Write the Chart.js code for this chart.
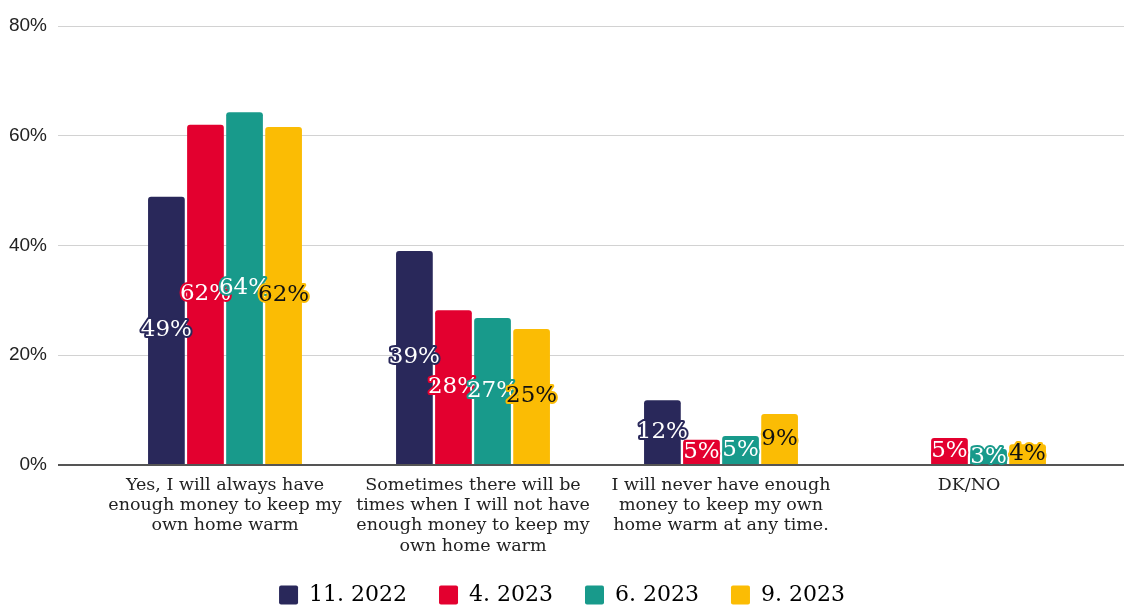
<!DOCTYPE html>
<html>
<head>
<meta charset="utf-8">
<script src="https://cdn.jsdelivr.net/npm/chart.js@4"></script>
<style>
  html, body { margin: 0; padding: 0; background: #fff; }
  #wrap { width: 1124px; height: 608px; }
</style>
</head>
<body>
<div id="wrap"><canvas id="chart"></canvas></div>
<script>
const categories = [
    ['Yes, I will always have', 'enough money to keep my', 'own home warm'],
    ['Sometimes there will be', 'times when I will not have', 'enough money to keep my', 'own home warm'],
    ['I will never have enough', 'money to keep my own', 'home warm at any time.'],
    ['DK/NO']
];
const seriesNames = ['11. 2022', '4. 2023', '6. 2023', '9. 2023'];
const nov2022 = [48.9, 39.0, 11.8, null];
const apr2023 = [62.0, 28.2, 4.6, 4.9];
const jun2023 = [64.3, 26.8, 5.3, 2.9];
const sep2023 = [61.6, 24.8, 9.3, 3.8];
const yTicks = [0, 20, 40, 60, 80];

const colors = ['#29285a', '#e3002f', '#189a8b', '#fbbc04'];
const labelText = ['#ffffff', '#ffffff', '#ffffff', '#111111'];
const serif = '"DejaVu Serif", Georgia, serif';

// value labels in the middle of each bar, with an outline in the bar colour
const barLabels = {
    id: 'barLabels',
    afterDatasetsDraw(chart) {
        const ctx = chart.ctx;
        ctx.save();
        ctx.font = '23px ' + serif;
        ctx.textAlign = 'center';
        ctx.textBaseline = 'middle';
        ctx.lineJoin = 'round';
        ctx.lineWidth = 4;
        chart.data.datasets.forEach((ds, i) => {
            const meta = chart.getDatasetMeta(i);
            meta.data.forEach((bar, j) => {
                const v = ds.data[j];
                if (v === null || v === undefined) return;
                const txt = Math.round(v) + '%';
                const y = (bar.y + bar.base) / 2;
                ctx.strokeStyle = colors[i];
                ctx.strokeText(txt, bar.x, y);
                ctx.fillStyle = labelText[i];
                ctx.fillText(txt, bar.x, y);
            });
        });
        ctx.restore();
    }
};

const gridColor = (c) => (c.tick && c.tick.value === 0) ? '#555555' : '#d2d2d2';
const gridWidth = (c) => (c.tick && c.tick.value === 0) ? 2 : 1;

new Chart(document.getElementById('chart'), {
    type: 'bar',
    data: {
        labels: categories,
        datasets: [nov2022, apr2023, jun2023, sep2023].map((d, i) => ({
            label: seriesNames[i],
            data: d,
            backgroundColor: colors[i],
            borderRadius: 3,
            categoryPercentage: 0.63,
            barPercentage: 0.94
        }))
    },
    options: {
        responsive: true,
        maintainAspectRatio: false,
        animation: false,
        layout: { padding: { top: 26, left: 0, right: 0, bottom: -8 } },
        plugins: {
            tooltip: { enabled: false },
            legend: {
                position: 'bottom',
                labels: {
                    boxWidth: 19,
                    boxHeight: 19,
                    padding: 32,
                    color: '#222',
                    font: { family: serif, size: 22 },
                    useBorderRadius: true,
                    borderRadius: 2,
                    generateLabels(chart) {
                        return chart.data.datasets.map((ds, i) => ({
                            text: ds.label,
                            fillStyle: colors[i],
                            strokeStyle: colors[i],
                            lineWidth: 0,
                            borderRadius: 2,
                            datasetIndex: i
                        }));
                    }
                }
            }
        },
        scales: {
            x: {
                afterFit(scale) { scale.height = 87; },
                grid: { display: false },
                border: { display: false },
                ticks: {
                    color: '#222',
                    padding: 2,
                    maxRotation: 0,
                    autoSkip: false,
                    font: { family: serif, size: 17.5, lineHeight: 1.16 }
                }
            },
            y: {
                min: 0,
                max: 80,
                afterBuildTicks(scale) { scale.ticks = yTicks.map(v => ({ value: v })); },
                afterFit(scale) { scale.width = 101; },
                border: { display: false },
                grid: { color: gridColor, lineWidth: gridWidth, tickLength: 43 },
                ticks: {
                    padding: 11,
                    color: '#222',
                    font: { family: '"Liberation Sans", Arial, sans-serif', size: 19 },
                    callback: (v) => v + '%'
                }
            },
            y2: {
                position: 'right',
                min: 0,
                max: 80,
                afterBuildTicks(scale) { scale.ticks = yTicks.map(v => ({ value: v })); },
                afterFit(scale) { scale.width = 31; },
                border: { display: false },
                grid: { color: gridColor, lineWidth: gridWidth, tickLength: 31, drawOnChartArea: false },
                ticks: { display: false }
            }
        }
    },
    plugins: [barLabels]
});
</script>
</body>
</html>
